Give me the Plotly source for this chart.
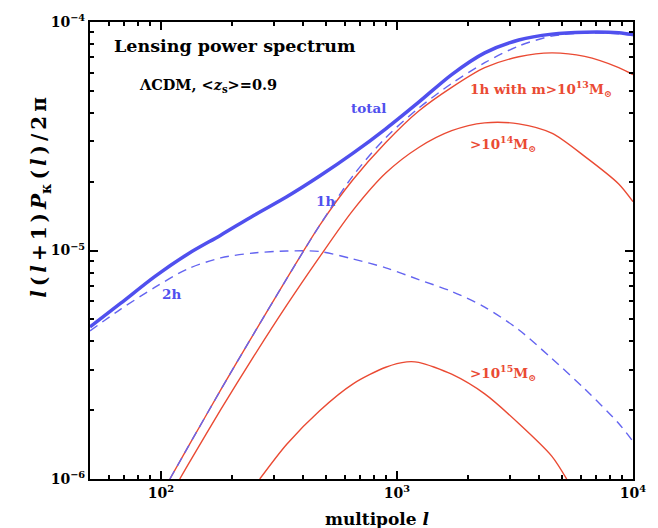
import plotly.graph_objects as go

# Multipole l and convergence power l(l+1)P_kappa(l)/2pi for each term
l_total = [50, 67.5, 94, 130, 179, 247, 341, 470, 649, 896, 1236, 1705, 2353, 3280, 4525, 6240, 8700, 10000]
p_total = [4.63e-6, 5.88e-6, 7.69e-6, 9.66e-6, 1.167e-5, 1.423e-5, 1.718e-5, 2.117e-5, 2.66e-5,
           3.41e-5, 4.46e-5, 5.89e-5, 7.33e-5, 8.34e-5, 8.85e-5, 9.03e-5, 8.98e-5, 8.81e-5]

l_2h = [50, 67.5, 94, 130, 179, 247, 341, 470, 649, 896, 1236, 1705, 2353, 3280, 4525, 6240, 8700, 10000]
p_2h = [4.45e-6, 5.54e-6, 6.89e-6, 8.32e-6, 9.28e-6, 9.75e-6, 9.95e-6, 9.90e-6, 9.19e-6,
        8.40e-6, 7.46e-6, 6.62e-6, 5.65e-6, 4.50e-6, 3.37e-6, 2.48e-6, 1.75e-6, 1.46e-6]

l_1h = [109, 130, 179, 247, 341, 470, 649, 896, 1236, 1705, 2353, 3280, 4525, 6240, 8700, 10000]
p_1h = [1.0e-6, 1.378e-6, 2.453e-6, 4.32e-6, 7.53e-6, 1.288e-5, 2.117e-5, 3.119e-5, 4.20e-5,
        5.385e-5, 6.635e-5, 7.855e-5, 8.675e-5, 8.94e-5, 8.89e-5, 8.72e-5]

# one-halo term restricted to halo masses above 1e13, 1e14 and 1e15 solar masses
l_m13 = [109, 130, 179, 247, 341, 470, 649, 896, 1236, 1705, 2353, 3280, 4525, 6240, 8700, 10000]
p_m13 = [1.0e-6, 1.378e-6, 2.453e-6, 4.32e-6, 7.53e-6, 1.288e-5, 2.034e-5, 2.968e-5, 4.077e-5,
         5.176e-5, 6.314e-5, 7.043e-5, 7.328e-5, 7.07e-5, 6.32e-5, 5.888e-5]

l_m14 = [120, 130, 179, 247, 341, 470, 649, 896, 1236, 1705, 2353, 3280, 4525, 6240, 8700, 10000]
p_m14 = [1.0e-6, 1.153e-6, 2.011e-6, 3.438e-6, 5.763e-6, 9.376e-6, 1.495e-5, 2.182e-5, 2.824e-5,
         3.344e-5, 3.620e-5, 3.584e-5, 3.262e-5, 2.582e-5, 1.955e-5, 1.635e-5]

l_m15 = [262, 341, 470, 649, 896, 1100, 1236, 1705, 2353, 3280, 4525, 5236]
p_m15 = [1.0e-6, 1.420e-6, 1.991e-6, 2.603e-6, 3.083e-6, 3.255e-6, 3.239e-6, 2.874e-6, 2.357e-6,
         1.75e-6, 1.26e-6, 1.0e-6]

x_tickvals = [100, 1000, 10000]
x_ticktext = ["10<sup>2</sup>", "10<sup>3</sup>", "10<sup>4</sup>"]
y_tickvals = [1e-6, 1e-5, 1e-4]
y_ticktext = ["10<sup>\u22126</sup>", "10<sup>\u22125</sup>", "10<sup>\u22124</sup>"]

BLUE = "#5050ee"
BLUE_DASH = "#6464f0"
RED = "#ea4a33"
SERIF = "DejaVu Serif"

fig = go.Figure()


def curve(x, y, color, width, dash="solid"):
    fig.add_trace(go.Scatter(x=x, y=y, mode="lines",
                             line=dict(color=color, width=width, dash=dash, shape="spline", smoothing=0.8),
                             showlegend=False, hoverinfo="skip"))


curve(l_2h, p_2h, BLUE_DASH, 1.4, "9px,6px")
curve(l_m15, p_m15, RED, 1.4)
curve(l_m14, p_m14, RED, 1.4)
curve(l_m13, p_m13, RED, 1.4)
curve(l_1h, p_1h, BLUE_DASH, 1.4, "9px,6px")
curve(l_total, p_total, BLUE, 3.5)

axis_common = dict(
    type="log", showgrid=False, zeroline=False,
    showline=True, linecolor="black", linewidth=2, mirror="allticks",
    ticks="inside", ticklen=8, tickwidth=1.5, tickcolor="black",
    tickfont=dict(family=SERIF, size=14, color="black", weight="bold"),
    minor=dict(ticks="inside", ticklen=4, tickwidth=1.5, tickcolor="black", dtick="D1", showgrid=False),
)

fig.update_xaxes(range=[1.699, 4], tickvals=x_tickvals, ticktext=x_ticktext, **axis_common)
fig.update_yaxes(range=[-6, -4], tickvals=y_tickvals, ticktext=y_ticktext, **axis_common)


# plot area spans x 90..634 px and y 16..479 px of the 658x528 page
def px(xp):
    return (xp - 90) / 544


def py(yp):
    return (479 - yp) / 463


def label(x, y, text, color, size=13, xanchor="left", yanchor="middle", angle=0):
    fig.add_annotation(x=px(x), y=py(y), xref="paper", yref="paper", text=text, showarrow=False,
                       xanchor=xanchor, yanchor=yanchor, textangle=angle,
                       font=dict(family=SERIF, size=size, color=color, weight="bold"))


label(112, 40, "Lensing power spectrum", "black", size=17.5)
label(137, 80, "\u039bCDM, &lt;<i>z</i><sub>s</sub>&gt;=0.9", "black", size=14.5)
label(349, 103, "total", BLUE, size=13.5)
label(469, 84, "1h with m&gt;10<sup>13</sup>M<sub>\u2299</sub>", RED, size=13.5)
label(469, 140, "&gt;10<sup>14</sup>M<sub>\u2299</sub>", RED, size=13.5)
label(314, 197, "1h", BLUE, size=13.5)
label(160, 292, "2h", BLUE, size=13.5)
label(469, 372, "&gt;10<sup>15</sup>M<sub>\u2299</sub>", RED, size=13.5)

# axis titles (the vertical one is typeset with thin spaces between glyphs)
label(378, 507, "multipole <i>l</i>", "black", size=17, xanchor="center", yanchor="top")
ts = "\u2009"
ytitle = ts.join(["<i>l</i>", "(", "<i>l</i>", "+", "1", ")", "<i>P</i><sub>\u03ba</sub>",
                  "(", "<i>l</i>", ")", "/", "2", "\u03c0"])
label(40, 194, ytitle, "black", size=20, xanchor="center", angle=-90)

fig.update_layout(
    width=658, height=528,
    margin=dict(l=90, r=24, t=16, b=49),
    paper_bgcolor="white", plot_bgcolor="white",
    showlegend=False,
)

fig.write_html("out.html")
